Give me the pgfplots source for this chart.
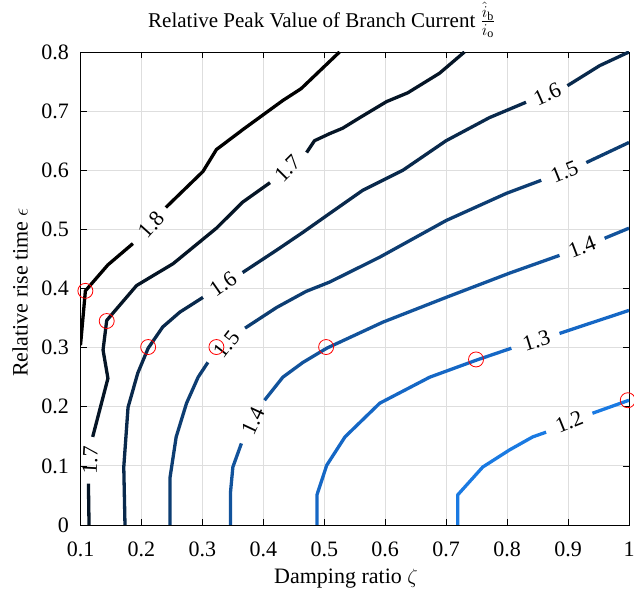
\documentclass[border=0pt]{standalone}
\usepackage{fontspec}
\setmainfont{Liberation Serif}
\usepackage{graphicx}
\usepackage{pgfplots}
\pgfplotsset{compat=1.18}

% contour level colours, black (1.8) to light blue (1.2)
\definecolor{c18}{RGB}{0,0,0}
\definecolor{c17}{RGB}{5,21,38}
\definecolor{c16}{RGB}{9,41,76}
\definecolor{c15}{RGB}{13,61,114}
\definecolor{c14}{RGB}{18,83,156}
\definecolor{c13}{RGB}{21,103,197}
\definecolor{c12}{RGB}{26,122,226}
\definecolor{gridgray}{RGB}{222,222,222}

\newcommand{\bigfont}{\fontsize{22bp}{26bp}\selectfont}
\newcommand{\titlefont}{\fontsize{21bp}{25bp}\selectfont}

\begin{document}
\begin{tikzpicture}[font=\bigfont]
\useasboundingbox (0,0) rectangle (634bp,595bp);
\begin{axis}[
  at={(80.5bp,70bp)}, anchor=south west,
  scale only axis, width=548.5bp, height=473bp,
  xmin=0.1, xmax=1, ymin=0, ymax=0.8,
  xtick={0.1,0.2,0.3,0.4,0.5,0.6,0.7,0.8,0.9,1},
  ytick={0,0.1,0.2,0.3,0.4,0.5,0.6,0.7,0.8},
  xticklabels={0.1,0.2,0.3,0.4,0.5,0.6,0.7,0.8,0.9,1},
  yticklabels={0,0.1,0.2,0.3,0.4,0.5,0.6,0.7,0.8},
  tick align=inside, major tick length=6bp,
  tick style={black, line width=0.6bp},
  axis line style={black, line width=0.8bp},
  grid=major, grid style={gridgray, line width=0.8bp},
  tick label style={font=\bigfont},
  label style={font=\bigfont},
  xticklabel style={yshift=-13bp},
  yticklabel style={xshift=-8bp},
  title style={font=\titlefont, at={(axis description cs:0.44,1.040)}, anchor=base},
  xlabel style={at={(axis description cs:0.484,-0.114)}, anchor=center},
  ylabel style={at={(axis description cs:-0.110,0.492)}, anchor=center},
  title={Relative Peak Value of Branch Current \scalebox{1.15}{$\frac{\hat{i}_{\mathrm{b}}}{i_{\mathrm{o}}}$}},
  xlabel={Damping ratio $\zeta$},
  ylabel={Relative rise time $\epsilon$},
  every axis plot/.append style={line width=3.3bp, line join=round, line cap=butt},
]
% level 1.8
\addplot[c18, no marks] coordinates {(0.100,0.304) (0.108,0.396) (0.145,0.440) (0.186,0.476)};
\addplot[c18, no marks] coordinates {(0.240,0.537) (0.301,0.598) (0.323,0.635) (0.368,0.670) (0.432,0.718) (0.462,0.738) (0.525,0.800)};
% level 1.7
\addplot[c17, no marks] coordinates {(0.114,0.000) (0.113,0.070)};
\addplot[c17, no marks] coordinates {(0.120,0.149) (0.145,0.248) (0.137,0.296) (0.143,0.346) (0.192,0.405) (0.252,0.442) (0.323,0.502) (0.366,0.546) (0.411,0.579)};
\addplot[c17, no marks] coordinates {(0.471,0.630) (0.484,0.650) (0.509,0.662) (0.530,0.671) (0.560,0.690) (0.602,0.716) (0.637,0.731) (0.689,0.764) (0.730,0.800)};
% level 1.6
\addplot[c16, no marks] coordinates {(0.173,0.000) (0.171,0.098) (0.178,0.199) (0.194,0.257) (0.211,0.299) (0.235,0.335) (0.263,0.360) (0.301,0.385)};
\addplot[c16, no marks] coordinates {(0.366,0.427) (0.422,0.465) (0.465,0.495) (0.509,0.527) (0.563,0.566) (0.629,0.600) (0.700,0.650) (0.771,0.689) (0.831,0.715)};
\addplot[c16, no marks] coordinates {(0.899,0.743) (0.952,0.777) (1.000,0.800)};
% level 1.5
\addplot[c15, no marks] coordinates {(0.247,0.000) (0.247,0.081) (0.257,0.149) (0.274,0.206) (0.293,0.250) (0.309,0.275)};
\addplot[c15, no marks] coordinates {(0.370,0.333) (0.422,0.368) (0.470,0.395) (0.509,0.411) (0.591,0.453) (0.700,0.515) (0.799,0.561) (0.856,0.583)};
\addplot[c15, no marks] coordinates {(0.930,0.613) (1.000,0.647)};
% level 1.4
\addplot[c14, no marks] coordinates {(0.346,0.000) (0.346,0.054) (0.350,0.098) (0.364,0.138)};
\addplot[c14, no marks] coordinates {(0.402,0.211) (0.432,0.250) (0.465,0.275) (0.504,0.299) (0.596,0.343) (0.700,0.385) (0.804,0.426) (0.886,0.456)};
\addplot[c14, no marks] coordinates {(0.960,0.485) (1.000,0.502)};
% level 1.3
\addplot[c13, no marks] coordinates {(0.488,0.000) (0.488,0.051) (0.504,0.101) (0.534,0.149) (0.591,0.206) (0.673,0.250) (0.750,0.279) (0.807,0.299)};
\addplot[c13, no marks] coordinates {(0.886,0.324) (1.000,0.363)};
% level 1.2
\addplot[c12, no marks] coordinates {(0.719,0.000) (0.719,0.051) (0.760,0.098) (0.804,0.127) (0.842,0.149) (0.864,0.157)};
\addplot[c12, no marks] coordinates {(0.940,0.189) (1.000,0.211)};

% contour level labels
\node[rotate=48] at (axis cs:0.217,0.508) {1.8};
\node[rotate=87] at (axis cs:0.116,0.110) {1.7};
\node[rotate=45] at (axis cs:0.440,0.603) {1.7};
\node[rotate=35] at (axis cs:0.334,0.408) {1.6};
\node[rotate=24] at (axis cs:0.866,0.729) {1.6};
\node[rotate=52] at (axis cs:0.340,0.305) {1.5};
\node[rotate=22] at (axis cs:0.894,0.597) {1.5};
\node[rotate=65] at (axis cs:0.383,0.176) {1.4};
\node[rotate=21] at (axis cs:0.923,0.470) {1.4};
\node[rotate=17] at (axis cs:0.848,0.312) {1.3};
\node[rotate=22] at (axis cs:0.902,0.174) {1.2};

% marked operating points
\addplot[only marks, mark=o, mark size=7.5bp, red, line width=0.8bp,
  mark options={solid, fill=none, draw=red, line width=0.8bp}]
  coordinates {(0.108,0.396) (0.143,0.345) (0.211,0.301) (0.323,0.301) (0.503,0.301) (0.749,0.280) (0.998,0.211)};
\end{axis}
\end{tikzpicture}
\end{document}
